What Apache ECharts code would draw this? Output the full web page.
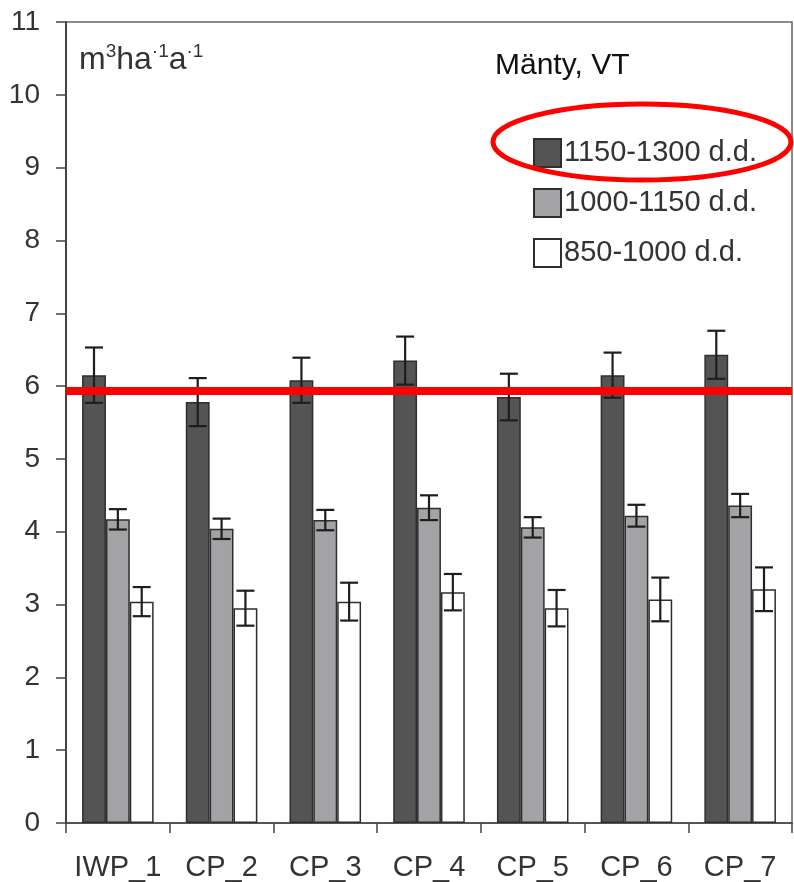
<!DOCTYPE html>
<html>
<head>
<meta charset="utf-8">
<script src="https://cdn.jsdelivr.net/npm/echarts@6/dist/echarts.min.js"></script>
<style>
html,body{margin:0;padding:0;background:#fff;}
#chart{width:794px;height:882px;}
</style>
</head>
<body>
<div id="chart"></div>
<script>
// ---- data ----
var categories = ['IWP_1', 'CP_2', 'CP_3', 'CP_4', 'CP_5', 'CP_6', 'CP_7'];
var seriesNames = ['1150-1300 d.d.', '1000-1150 d.d.', '850-1000 d.d.'];
var highValues = [6.15, 5.78, 6.08, 6.35, 5.85, 6.15, 6.43];
var highErrors = [0.38, 0.33, 0.31, 0.33, 0.32, 0.31, 0.33];
var midValues = [4.17, 4.04, 4.16, 4.33, 4.06, 4.22, 4.36];
var midErrors = [0.14, 0.14, 0.14, 0.17, 0.14, 0.15, 0.16];
var lowValues = [3.04, 2.95, 3.04, 3.17, 2.95, 3.07, 3.21];
var lowErrors = [0.20, 0.24, 0.26, 0.25, 0.25, 0.30, 0.30];
var referenceLine = 5.93;
var yTicks = [0, 1, 2, 3, 4, 5, 6, 7, 8, 9, 10, 11];

var chart = echarts.init(document.getElementById('chart'), null, {renderer: 'canvas'});

var barGapRatio = 0.31;
var barColors = ['#545454', '#a3a3a6', '#ffffff'];
var allValues = [highValues, midValues, lowValues];
var allErrors = [highErrors, midErrors, lowErrors];

function errorSeries(k) {
  var data = categories.map(function (c, i) {
    return [i, allValues[k][i] - allErrors[k][i], allValues[k][i] + allErrors[k][i]];
  });
  return {
    type: 'custom',
    name: seriesNames[k] + ' err',
    z: 5,
    silent: true,
    data: data,
    encode: {x: 0, y: [1, 2]},
    renderItem: function (params, api) {
      var idx = api.value(0);
      var lo = api.coord([idx, api.value(1)]);
      var hi = api.coord([idx, api.value(2)]);
      var band = api.size([1, 0])[0];
      var bw = band * (1 - barGapRatio) / 3;
      var x = lo[0] + (k - 1) * bw;
      var cap = 9;
      var st = {stroke: '#1e1e1e', lineWidth: 2.2};
      return {
        type: 'group',
        children: [
          {type: 'line', shape: {x1: x, y1: hi[1], x2: x, y2: lo[1]}, style: st},
          {type: 'line', shape: {x1: x - cap, y1: hi[1], x2: x + cap, y2: hi[1]}, style: st},
          {type: 'line', shape: {x1: x - cap, y1: lo[1], x2: x + cap, y2: lo[1]}, style: st}
        ]
      };
    }
  };
}

function barSeries(k) {
  var s = {
    type: 'bar',
    name: seriesNames[k],
    data: allValues[k],
    barGap: '0%',
    barCategoryGap: (barGapRatio * 100) + '%',
    itemStyle: {color: barColors[k], borderColor: '#2e2e2e', borderWidth: 1.5},
    emphasis: {disabled: true},
    z: 2
  };
  if (k === 0) {
    s.markLine = {
      silent: true,
      symbol: ['none', 'none'],
      label: {show: false},
      lineStyle: {color: '#ff0000', width: 8, type: 'solid'},
      data: [{yAxis: referenceLine}],
      z: 10
    };
  }
  return s;
}

var option = {
  backgroundColor: '#ffffff',
  animation: false,
  textStyle: {fontFamily: 'Liberation Sans, Arial, sans-serif'},
  grid: {
    left: 66, right: 2, top: 22, bottom: 59,
    show: true, borderColor: '#666', borderWidth: 1.5, backgroundColor: 'transparent'
  },
  legend: {
    orient: 'vertical',
    left: 528,
    top: 133,
    itemWidth: 27,
    itemHeight: 28,
    itemGap: 20,
    icon: 'rect',
    data: seriesNames,
    textStyle: {fontSize: 29, color: '#333', padding: [0, 0, 0, -2]},
    selectedMode: false
  },
  xAxis: {
    type: 'category',
    data: categories,
    axisLine: {lineStyle: {color: '#444', width: 1.5}},
    axisTick: {show: true, interval: 0, length: 10, lineStyle: {color: '#444', width: 1.5}},
    axisLabel: {interval: 0, fontSize: 29, color: '#333', margin: 30, fontFamily: 'Liberation Sans, Arial, sans-serif'},
    splitLine: {show: false}
  },
  yAxis: {
    type: 'value',
    min: yTicks[0],
    max: yTicks[yTicks.length - 1],
    interval: 1,
    axisLine: {show: true, lineStyle: {color: '#444', width: 2}},
    axisTick: {show: true, length: 10, lineStyle: {color: '#444', width: 1.5}},
    axisLabel: {fontSize: 28, color: '#333', margin: 26, fontFamily: 'Liberation Sans, Arial, sans-serif'},
    splitLine: {show: false}
  },
  graphic: [
    {
      type: 'text',
      left: 495,
      top: 51,
      style: {text: 'Mänty, VT', fontSize: 30, fill: '#111', fontFamily: 'Liberation Sans, Arial, sans-serif'}
    },
    {
      type: 'text',
      left: 79,
      top: 42,
      style: {
        text: '{a|m}{s|3}{a|ha}{s|·1}{a|a}{s|·1}',
        fontFamily: 'Liberation Sans, Arial, sans-serif',
        rich: {
          a: {fontSize: 32, fill: '#333', verticalAlign: 'bottom'},
          s: {fontSize: 19, fill: '#333', verticalAlign: 'bottom', padding: [0, 0, 15, 0]}
        }
      }
    },
    {
      type: 'ellipse',
      shape: {cx: 642, cy: 142, rx: 149, ry: 38},
      style: {fill: 'none', stroke: '#ff0000', lineWidth: 5},
      z: 100
    }
  ],
  series: [barSeries(0), barSeries(1), barSeries(2), errorSeries(0), errorSeries(1), errorSeries(2)]
};

chart.setOption(option);
</script>
</body>
</html>
